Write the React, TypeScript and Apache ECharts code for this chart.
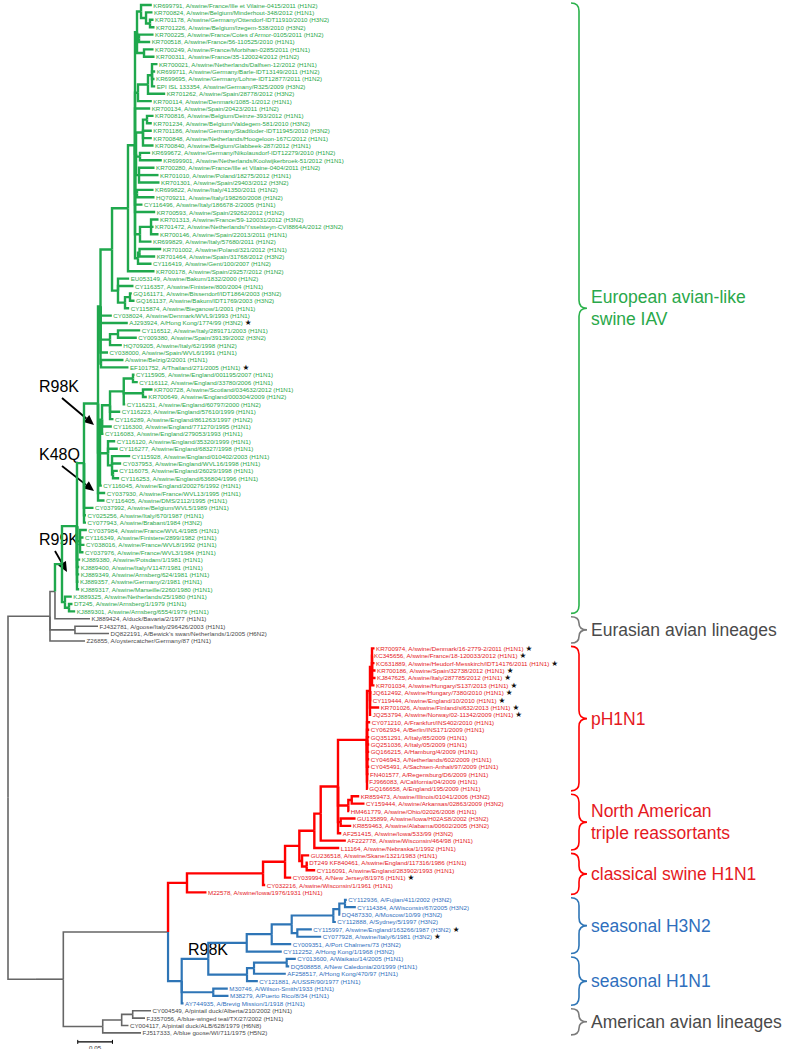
import React, { useEffect, useRef } from "react";
import * as echarts from "echarts";

// Tree topology. Leaves are numbered 1..140 (top to bottom); the number after ':' is the
// node's distance from the root (substitutions per site).
const TREE_DEPTHS = `
((((
(
 (
  (
   (
    (
     (
      (
       (
        ((1:0.2072,(2:0.2082,(3:0.2097,4:0.2111):0.2046):0.1989):0.1917,(5:0.2097,6:0.2049):0.1888,(7:0.2097,8:0.2111):0.1960):0.1859,
        (((9:0.2154,10:0.2121,11:0.2111,12:0.2121):0.2075,13:0.2265):0.2017,14:0.2072):0.1873,
        15:0.2049,
        (((16:0.2097,17:0.2072):0.2003,18:0.2072,19:0.2072,20:0.2097):0.1945,(21:0.2049,22:0.2216):0.1902,(23:0.2111,24:0.2169,25:0.2183):0.1888):0.1845,
        (26:0.2097,27:0.2111):0.1859,
        28:0.1938,
        29:0.2121,
        ((30:0.2169,31:0.2097,32:0.2169):0.2061,33:0.2068):0.1902,
        ((34:0.2208,35:0.2121):0.1895,36:0.2068):0.1873
       ):0.1830,
       37:0.2111
      ):0.1729,
      (38:0.1746,39:0.1808,((40:0.1784,41:0.1823):0.1758,42:0.1746):0.1686):0.1585
     ):0.1499,
     43:0.1496,
     44:0.1726,
     ((45:0.1905,46:0.1856):0.1585,47:0.1640):0.1470,
     48:0.1441,
     (49:0.1664,50:0.1736):0.1340
    ):0.1333,
    (
     ((((51:0.1823,52:0.1870):0.1801,(53:0.2082,54:0.2000):0.1945,55:0.1689):0.1668,56:0.1617,57:0.1520):0.1470,58:0.1496,59:0.1376):0.1355,
     (60:0.1545,61:0.1582,(62:0.1761,63:0.1631,(64:0.1582,65:0.1602):0.1513):0.1499):0.1441,
     66:0.1352
    ):0.1326,
    67:0.1401,
    68:0.1391
   ):0.1297,
   69:0.1232,
   70:0.1124,
   71:0.1124
  ):0.1095,
  (72:0.1136,73:0.1088,74:0.1102,75:0.1088):0.1038,
  76:0.1040,77:0.1026,78:0.1026,79:0.1016,80:0.1026
 ):0.0994,
 (81:0.0919,(82:0.0929,83:0.0968):0.0879):0.0821
):0.0778,
84:0.1182):0.0677,
(85:0.1297,86:0.1455):0.0965,
87:0.1110):0.0605,
(
 (
  (
   (
    (
     (
      (
       (
        (
         (
          (((88:0.5281,89:0.5253,90:0.5281,91:0.5296,92:0.5296,93:0.5281):0.5245,94:0.5234,95:0.5234,96:0.5349,97:0.5234):0.5216,
           98:0.5219,99:0.5205,100:0.5205,101:0.5205,102:0.5205,103:0.5205,104:0.5205,105:0.5195,106:0.5185,107:0.5185):0.5173,
          ((108:0.5061,109:0.5137):0.4953,110:0.4917):0.4904,
          (111:0.5008,112:0.4946):0.4794,
          113:0.4802
         ):0.4755,
         114:0.4868
        ):0.4506,
        115:0.4773
       ):0.4414,
       (116:0.4340,(117:0.4320,118:0.4427):0.4304):0.4237
      ):0.4198,
      119:0.4081
     ):0.3992,
     120:0.3706
    ):0.3675,
    121:0.2860
   ):0.2579,
   (
    (
     ((((((122:0.4882,123:0.5012):0.4856,124:0.4787):0.4774,125:0.4724):0.4688,(126:0.4378,127:0.4513):0.4169):0.4088,128:0.4081):0.3800,129:0.3945):0.3440,
     (((130:0.4147,131:0.4052):0.4016,132:0.4003):0.3545,133:0.3600):0.3444
    ):0.2886,
    (134:0.3167,135:0.3177):0.2958,
    136:0.2529
   ):0.2503
  ):0.2306,
  (((137:0.2061,138:0.1974):0.1797,139:0.1736):0.1638,140:0.1917):0.1365
 ):0.0797
):0.0403):0
`;

const LEAF_LABELS: string[] = [
  "KR699791, A/swine/France/Ille et Vilaine-0415/2011 (H1N2)",
  "KR700824, A/swine/Belgium/Minderhout-348/2012 (H1N1)",
  "KR701178, A/swine/Germany/Ottendorf-IDT11910/2010 (H3N2)",
  "KR701226, A/swine/Belgium/Izegem-538/2010 (H3N2)",
  "KR700225, A/swine/France/Cotes d'Armor-0105/2011 (H1N2)",
  "KR700518, A/swine/France/56-110525/2010 (H1N1)",
  "KR700249, A/swine/France/Morbihan-0285/2011 (H1N1)",
  "KR700311, A/swine/France/35-120024/2012 (H1N2)",
  "KR700021, A/swine/Netherlands/Dalfsen-12/2012 (H1N1)",
  "KR699711, A/swine/Germany/Barle-IDT13149/2011 (H1N2)",
  "KR699695, A/swine/Germany/Lohne-IDT12877/2011 (H1N2)",
  "EPI ISL 133354, A/swine/Germany/R325/2009 (H3N2)",
  "KR701262, A/swine/Spain/28778/2012 (H3N2)",
  "KR700114, A/swine/Denmark/1085-1/2012 (H1N1)",
  "KR700134, A/swine/Spain/20423/2011 (H1N2)",
  "KR700816, A/swine/Belgium/Deinze-393/2012 (H1N1)",
  "KR701234, A/swine/Belgium/Valdegem-581/2010 (H3N2)",
  "KR701186, A/swine/Germany/Stadtloder-IDT11945/2010 (H3N2)",
  "KR700848, A/swine/Netherlands/Hoogeloon-167C/2012 (H1N1)",
  "KR700840, A/swine/Belgium/Glabbeek-287/2012 (H1N1)",
  "KR699672, A/swine/Germany/Nikolausdorf-IDT12279/2010 (H1N2)",
  "KR699901, A/swine/Netherlands/Koolwijkerbroek-51/2012 (H1N1)",
  "KR700280, A/swine/France/Ille et Vilaine-0404/2011 (H1N2)",
  "KR701010, A/swine/Poland/18275/2012 (H1N1)",
  "KR701301, A/swine/Spain/29403/2012 (H3N2)",
  "KR699822, A/swine/Italy/41350/2011 (H1N2)",
  "HQ709211, A/swine/Italy/198260/2008 (H1N2)",
  "CY116496, A/swine/Italy/186678-2/2005 (H1N1)",
  "KR700593, A/swine/Spain/29262/2012 (H1N2)",
  "KR701313, A/swine/France/59-120031/2012 (H3N2)",
  "KR701472, A/swine/Netherlands/Ysselsteyn-CVI8864A/2012 (H3N2)",
  "KR700146, A/swine/Spain/22013/2011 (H1N1)",
  "KR699829, A/swine/Italy/57680/2011 (H1N2)",
  "KR701002, A/swine/Poland/321/2012 (H1N1)",
  "KR701464, A/swine/Spain/31768/2012 (H3N2)",
  "CY116419, A/swine/Gent/100/2007 (H1N2)",
  "KR700178, A/swine/Spain/29257/2012 (H1N2)",
  "EU053149, A/swine/Bakum/1832/2000 (H1N2)",
  "CY116357, A/swine/Finistere/800/2004 (H1N1)",
  "GQ161171, A/swine/Bissendorf/IDT1864/2003 (H3N2)",
  "GQ161137, A/swine/Bakum/IDT1769/2003 (H3N2)",
  "CY115874, A/swine/Bieganow/1/2001 (H1N1)",
  "CY038024, A/swine/Denmark/WVL9/1993 (H1N1)",
  "AJ293924, A/Hong Kong/1774/99 (H3N2)",
  "CY116512, A/swine/Italy/289171/2003 (H1N1)",
  "CY009380, A/swine/Spain/39139/2002 (H3N2)",
  "HQ709205, A/swine/Italy/62/1998 (H1N2)",
  "CY038000, A/swine/Spain/WVL6/1991 (H1N1)",
  "A/swine/Belzig/2/2001 (H1N1)",
  "EF101752, A/Thailand/271/2005 (H1N1)",
  "CY115905, A/swine/England/001195/2007 (H1N1)",
  "CY116112, A/swine/England/33780/2006 (H1N1)",
  "KR700728, A/swine/Scotland/034632/2012 (H1N1)",
  "KR700649, A/swine/England/000304/2009 (H1N2)",
  "CY116231, A/swine/England/60797/2000 (H1N2)",
  "CY116223, A/swine/England/57610/1999 (H1N1)",
  "CY116289, A/swine/England/861263/1997 (H1N2)",
  "CY116300, A/swine/England/771270/1995 (H1N1)",
  "CY116083, A/swine/England/279053/1993 (H1N1)",
  "CY116120, A/swine/England/35320/1999 (H1N1)",
  "CY116277, A/swine/England/68327/1998 (H1N1)",
  "CY115928, A/swine/England/010402/2003 (H1N1)",
  "CY037953, A/swine/England/WVL16/1998 (H1N1)",
  "CY116075, A/swine/England/26029/1998 (H1N1)",
  "CY116253, A/swine/England/636804/1996 (H1N1)",
  "CY116045, A/swine/England/200276/1992 (H1N1)",
  "CY037930, A/swine/France/WVL13/1995 (H1N1)",
  "CY116405, A/swine/DMS/2112/1995 (H1N1)",
  "CY037992, A/swine/Belgium/WVL5/1989 (H1N1)",
  "CY025256, A/swine/Italy/670/1987 (H1N1)",
  "CY077943, A/swine/Brabant/1984 (H3N2)",
  "CY037984, A/swine/France/WVL4/1985 (H1N1)",
  "CY116349, A/swine/Finistere/2899/1982 (H1N1)",
  "CY038016, A/swine/France/WVL8/1992 (H1N1)",
  "CY037976, A/swine/France/WVL3/1984 (H1N1)",
  "KJ889380, A/swine/Potsdam/1/1981 (H1N1)",
  "KJ889400, A/swine/Italy/V1147/1981 (H1N1)",
  "KJ889349, A/swine/Arnsberg/624/1981 (H1N1)",
  "KJ889357, A/swine/Germany/2/1981 (H1N1)",
  "KJ889317, A/swine/Marseille/2260/1980 (H1N1)",
  "KJ889325, A/swine/Netherlands/25/1980 (H1N1)",
  "DT245, A/swine/Arnsberg/1/1979 (H1N1)",
  "KJ889301, A/swine/Arnsberg/6554/1979 (H1N1)",
  "KJ889424, A/duck/Bavaria/2/1977 (H1N1)",
  "FJ432781, A/goose/Italy/296426/2003 (H1N1)",
  "DQ822191, A/Bewick's swan/Netherlands/1/2005 (H6N2)",
  "Z26855, A/oystercatcher/Germany/87 (H1N1)",
  "KR700974, A/swine/Denmark/16-2779-2/2011 (H1N1)",
  "KC345656, A/swine/France/18-120033/2012 (H1N1)",
  "KC631889, A/swine/Heudorf-Messkirch/IDT14176/2011 (H1N1)",
  "KR700186, A/swine/Spain/32738/2012 (H1N1)",
  "KJ847625, A/swine/Italy/287785/2012 (H1N1)",
  "KR701034, A/swine/Hungary/S137/2013 (H1N1)",
  "JQ612492, A/swine/Hungary/7380/2010 (H1N1)",
  "CY119444, A/swine/England/10/2010 (H1N1)",
  "KR701026, A/swine/Finland/sl632/2013 (H1N1)",
  "JQ253794, A/swine/Norway/02-11342/2009 (H1N1)",
  "CY071210, A/Frankfurt/INS402/2010 (H1N1)",
  "CY062934, A/Berlin/INS171/2009 (H1N1)",
  "GQ351291, A/Italy/85/2009 (H1N1)",
  "GQ251036, A/Italy/05/2009 (H1N1)",
  "GQ166215, A/Hamburg/4/2009 (H1N1)",
  "CY046943, A/Netherlands/602/2009 (H1N1)",
  "CY045491, A/Sachsen-Anhalt/97/2009 (H1N1)",
  "FN401577, A/Regensburg/D6/2009 (H1N1)",
  "FJ966083, A/California/04/2009 (H1N1)",
  "GQ166658, A/England/195/2009 (H1N1)",
  "KR859473, A/swine/Illinois/01041/2006 (H3N2)",
  "CY159444, A/swine/Arkansas/02863/2009 (H3N2)",
  "HM461779, A/swine/Ohio/02026/2008 (H1N1)",
  "GU135899, A/swine/Iowa/H02AS8/2002 (H3N2)",
  "KR859463, A/swine/Alabama/00602/2005 (H3N2)",
  "AF251415, A/swine/Iowa/533/99 (H3N2)",
  "AF222778, A/swine/Wisconsin/464/98 (H1N1)",
  "L11164, A/swine/Nebraska/1/1992 (H1N1)",
  "GU236518, A/swine/Skane/1321/1983 (H1N1)",
  "DT249 KF840461, A/swine/England/117316/1986 (H1N1)",
  "CY116091, A/swine/England/283902/1993 (H1N1)",
  "CY039994, A/New Jersey/8/1976 (H1N1)",
  "CY032216, A/swine/Wisconsin/1/1961 (H1N1)",
  "M22578, A/swine/Iowa/1976/1931 (H1N1)",
  "CY112936, A/Fujian/411/2002 (H3N2)",
  "CY114384, A/Wisconsin/67/2005 (H3N2)",
  "DQ487330, A/Moscow/10/99 (H3N2)",
  "CY112888, A/Sydney/5/1997 (H3N2)",
  "CY115997, A/swine/England/163266/1987 (H3N2)",
  "CY077928, A/swine/Italy/6/1981 (H3N2)",
  "CY009351, A/Port Chalmers/73 (H3N2)",
  "CY112252, A/Hong Kong/1/1968 (H3N2)",
  "CY013600, A/Waikato/14/2005 (H1N1)",
  "DQ508858, A/New Caledonia/20/1999 (H1N1)",
  "AF258517, A/Hong Kong/470/97 (H1N1)",
  "CY121881, A/USSR/90/1977 (H1N1)",
  "M30746, A/Wilson-Smith/1933 (H1N1)",
  "M38279, A/Puerto Rico/8/34 (H1N1)",
  "AY744935, A/Brevig Mission/1/1918 (H1N1)",
  "CY004549, A/pintail duck/Alberta/210/2002 (H1N1)",
  "FJ357056, A/blue-winged teal/TX/27/2002 (H1N1)",
  "CY004117, A/pintail duck/ALB/628/1979 (H6N8)",
  "FJ517333, A/blue goose/WI/711/1975 (H5N2)",
];

// Leaves marked with a star
const STARRED_LEAVES = [44, 50, 88, 89, 90, 91, 92, 93, 94, 95, 96, 97, 119, 126, 127];

// Clades (bracketed groups on the right)
const CLADE_NAMES = [
  "European avian-like\nswine IAV",
  "Eurasian avian lineages",
  "pH1N1",
  "North American\ntriple reassortants",
  "classical swine H1N1",
  "seasonal H3N2",
  "seasonal H1N1",
  "American avian lineages",
];
const CLADE_FIRST_LEAF = [1, 84, 88, 108, 116, 122, 130, 137];
const CLADE_LAST_LEAF = [83, 87, 107, 115, 121, 129, 136, 140];
const CLADE_FAMILY = ["green", "gray", "red", "red", "red", "blue", "blue", "gray"];

const SCALE_BAR_LENGTH = 0.05;
const SCALE_BAR_LABEL = "0.05";
const SCALE_BAR_START = 0.1005;

const MUTATION_NOTES = ["R98K", "K48Q", "R99K", "R98K"];

// ---------- layout / styles ----------
const ROOT_STUB_ROW = 98.5; // vertical position (in leaf rows) of the root stub
const LINE_COLOR: Record<string, string> = {
  green: "#1fa84d",
  gray: "#666666",
  red: "#ff0000",
  blue: "#2e75b6",
};
const TEXT_COLOR: Record<string, string> = {
  green: "#2aa84a",
  gray: "#4a4a4a",
  red: "#e5191e",
  blue: "#2f6fbd",
};
const BRACE_COLOR: Record<string, string> = {
  green: "#2bb24c",
  gray: "#7a7a7a",
  red: "#ff0000",
  blue: "#2e75b6",
};
const LINE_WIDTH: Record<string, number> = { green: 2.4, gray: 1.6, red: 2.4, blue: 2.2 };
const FAMILIES = ["green", "gray", "red", "blue"];

type TNode = { children: TNode[]; depth: number; leaf: number | null; y: number; fam: string };

function parseTree(src: string): TNode {
  const s = src.replace(/\s+/g, "");
  let i = 0;
  function node(): TNode {
    const n: TNode = { children: [], depth: 0, leaf: null, y: 0, fam: "gray" };
    if (s[i] === "(") {
      i++;
      n.children.push(node());
      while (s[i] === ",") {
        i++;
        n.children.push(node());
      }
      i++;
    } else {
      let name = "";
      while (i < s.length && /[0-9]/.test(s[i])) name += s[i++];
      n.leaf = parseInt(name, 10);
    }
    if (s[i] === ":") {
      i++;
      let num = "";
      while (i < s.length && /[0-9.eE-]/.test(s[i])) num += s[i++];
      n.depth = parseFloat(num);
    }
    return n;
  }
  return node();
}

function leafFamily(leaf: number): string {
  for (let k = 0; k < CLADE_FIRST_LEAF.length; k++) {
    if (leaf >= CLADE_FIRST_LEAF[k] && leaf <= CLADE_LAST_LEAF[k]) return CLADE_FAMILY[k];
  }
  return "gray";
}

function layout(n: TNode): Set<string> {
  if (n.leaf !== null) {
    n.y = n.leaf - 1;
    n.fam = leafFamily(n.leaf);
    return new Set([n.fam]);
  }
  const fams = new Set<string>();
  n.children.forEach((c) => layout(c).forEach((f) => fams.add(f)));
  n.y = (n.children[0].y + n.children[n.children.length - 1].y) / 2;
  n.fam = fams.size === 1 ? [...fams][0] : "gray";
  return fams;
}

const FONT = '"Liberation Sans", Arial, sans-serif';

export default function App() {
  const ref = useRef<HTMLDivElement>(null);
  useEffect(() => {
    if (!ref.current) return;
    const chart = echarts.init(ref.current, undefined, { renderer: "svg" });

    const root = parseTree(TREE_DEPTHS);
    layout(root);
    const edges: number[][] = [];
    const tips: number[][] = [];
    const walk = (n: TNode) => {
      if (n.leaf !== null) {
        tips.push([n.depth, n.y, n.leaf]);
        return;
      }
      n.children.forEach((c) => {
        edges.push([n.depth, n.y, c.depth, c.y, FAMILIES.indexOf(c.fam)]);
        walk(c);
      });
    };
    const top = root.children[0];
    edges.push([root.depth, ROOT_STUB_ROW, top.depth, ROOT_STUB_ROW, FAMILIES.indexOf(top.fam)]);
    walk(top);
    edges.sort((a, b) => (a[4] === 1 ? 0 : 1) - (b[4] === 1 ? 0 : 1));

    const nLeaves = LEAF_LABELS.length;
    const cladeData = CLADE_NAMES.map((_, k) => [CLADE_FIRST_LEAF[k] - 1, CLADE_LAST_LEAF[k] - 1, k]);

    const arrow = (x1: number, y1: number, x2: number, y2: number) => {
      const ang = Math.atan2(y2 - y1, x2 - x1);
      const L = 10, Wd = 4.5;
      const bx = x2 - L * Math.cos(ang), by = y2 - L * Math.sin(ang);
      const px = -Math.sin(ang) * Wd, py = Math.cos(ang) * Wd;
      return [
        { type: "line", shape: { x1, y1, x2: bx, y2: by }, style: { stroke: "#000", lineWidth: 1.8 } },
        { type: "polygon", shape: { points: [[x2, y2], [bx + px, by + py], [bx - px, by - py]] }, style: { fill: "#000" } },
      ];
    };
    const noteFont = `16px ${FONT}`;

    chart.setOption({
      animation: false,
      grid: { left: 8, top: 5, width: 791, height: 1027.9 },
      xAxis: { type: "value", min: 0, max: 791 / 694, show: false },
      yAxis: { type: "value", min: 0, max: nLeaves - 1, inverse: true, show: false },
      series: [
        {
          type: "custom",
          coordinateSystem: "cartesian2d",
          data: edges,
          encode: { x: [0, 2], y: [1, 3] },
          renderItem: (params: any, api: any) => {
            const fam = FAMILIES[api.value(4)];
            const p0 = api.coord([api.value(0), api.value(1)]);
            const p1 = api.coord([api.value(0), api.value(3)]);
            const p2 = api.coord([api.value(2), api.value(3)]);
            return {
              type: "polyline",
              shape: { points: [p0, p1, p2] },
              style: { stroke: LINE_COLOR[fam], lineWidth: LINE_WIDTH[fam], fill: null, lineJoin: "miter" },
            };
          },
        },
        {
          type: "custom",
          coordinateSystem: "cartesian2d",
          data: tips,
          encode: { x: 0, y: 1 },
          renderItem: (params: any, api: any) => {
            const leaf = api.value(2);
            const fam = leafFamily(leaf);
            const p = api.coord([api.value(0), api.value(1)]);
            const star = STARRED_LEAVES.indexOf(leaf) >= 0;
            return {
              type: "text",
              x: p[0] + 1.5,
              y: p[1],
              style: {
                text: LEAF_LABELS[leaf - 1] + (star ? " {s|★}" : ""),
                fill: TEXT_COLOR[fam],
                font: `6.2px ${FONT}`,
                lineHeight: 7,
                verticalAlign: "middle",
                align: "left",
                rich: { s: { fill: "#111", font: `7.6px "DejaVu Sans"`, lineHeight: 7 } },
              },
            };
          },
        },
        {
          type: "custom",
          coordinateSystem: "cartesian2d",
          data: cladeData,
          encode: { y: [0, 1] },
          renderItem: (params: any, api: any) => {
            const k = api.value(2);
            const fam = CLADE_FAMILY[k];
            const yTop = api.coord([0, api.value(0)])[1] - 2;
            const yBot = api.coord([0, api.value(1)])[1] + 2;
            const x0 = 571, w = 8;
            const ym = (yTop + yBot) / 2;
            const r = Math.min(8, (yBot - yTop) / 4);
            const d = `M${x0},${yTop} Q${x0 + w},${yTop} ${x0 + w},${yTop + r} L${x0 + w},${ym - r} Q${x0 + w},${ym} ${x0 + 2 * w},${ym} Q${x0 + w},${ym} ${x0 + w},${ym + r} L${x0 + w},${yBot - r} Q${x0 + w},${yBot} ${x0},${yBot}`;
            return {
              type: "group",
              children: [
                { type: "path", shape: { pathData: d }, style: { stroke: BRACE_COLOR[fam], fill: "none", lineWidth: 1.6 } },
                {
                  type: "text",
                  x: x0 + 2 * w + 4,
                  y: ym,
                  style: {
                    text: CLADE_NAMES[k],
                    fill: TEXT_COLOR[fam],
                    font: `17.5px ${FONT}`,
                    verticalAlign: "middle",
                    align: "left",
                    lineHeight: 22,
                  },
                },
              ],
            };
          },
        },
        {
          type: "custom",
          coordinateSystem: "cartesian2d",
          data: [[SCALE_BAR_START, nLeaves - 1, SCALE_BAR_START + SCALE_BAR_LENGTH]],
          renderItem: (params: any, api: any) => {
            const a = api.coord([api.value(0), api.value(1)]);
            const b = api.coord([api.value(2), api.value(1)]);
            const y = a[1] + 9;
            return {
              type: "group",
              children: [
                { type: "line", shape: { x1: a[0], y1: y, x2: b[0], y2: y }, style: { stroke: "#000", lineWidth: 1.3 } },
                { type: "line", shape: { x1: a[0], y1: y - 2, x2: a[0], y2: y + 2 }, style: { stroke: "#000", lineWidth: 1 } },
                { type: "line", shape: { x1: b[0], y1: y - 2, x2: b[0], y2: y + 2 }, style: { stroke: "#000", lineWidth: 1 } },
                {
                  type: "text",
                  x: (a[0] + b[0]) / 2,
                  y: y + 5.5,
                  style: { text: SCALE_BAR_LABEL, fill: "#333", font: `6.2px ${FONT}`, align: "center", verticalAlign: "middle" },
                },
              ],
            };
          },
        },
      ],
      graphic: [
        { type: "text", x: 39, y: 386, style: { text: MUTATION_NOTES[0], font: noteFont, fill: "#000", verticalAlign: "middle" } },
        ...arrow(62, 398, 94, 425),
        { type: "text", x: 39, y: 454, style: { text: MUTATION_NOTES[1], font: noteFont, fill: "#000", verticalAlign: "middle" } },
        ...arrow(62, 466, 94, 491),
        { type: "text", x: 39, y: 539, style: { text: MUTATION_NOTES[2], font: noteFont, fill: "#000", verticalAlign: "middle" } },
        ...arrow(55, 551, 67, 572),
        { type: "text", x: 188, y: 949, style: { text: MUTATION_NOTES[3], font: noteFont, fill: "#000", verticalAlign: "middle" } },
      ],
    });
    return () => chart.dispose();
  }, []);
  return (
    <div
      ref={ref}
      style={{ position: "absolute", left: 0, top: 0, width: 799, height: 1049, background: "#fff" }}
    />
  );
}
